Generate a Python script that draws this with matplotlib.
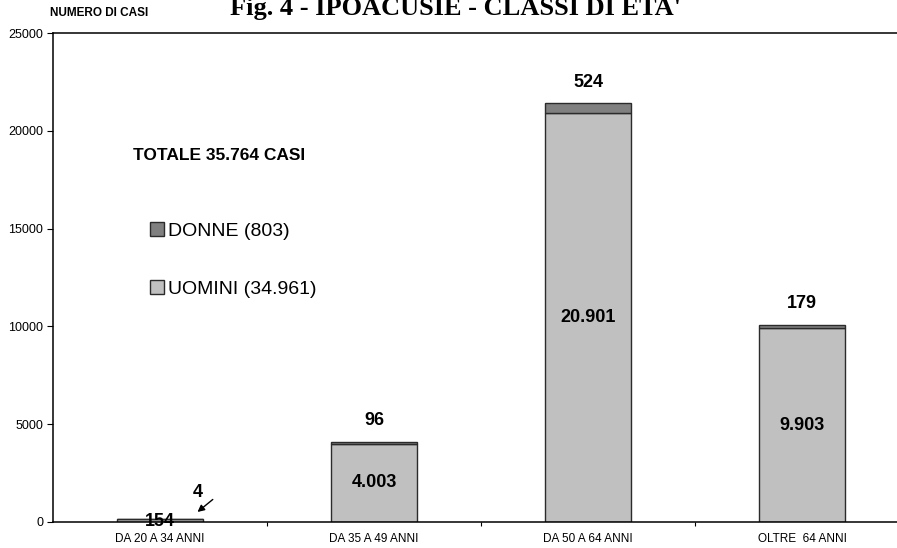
import matplotlib.pyplot as plt
from matplotlib.transforms import offset_copy

# Ipoacusie: casi per classe di eta' e sesso
classi = ["DA 20 A 34 ANNI", "DA 35 A 49 ANNI", "DA 50 A 64 ANNI", "OLTRE  64 ANNI"]
uomini = [154, 4003, 20901, 9903]
donne = [4, 96, 524, 179]
y_ticks = [0, 5000, 10000, 15000, 20000, 25000]


def fmt_it(v):
    # separatore delle migliaia all'italiana
    return f"{v:,}".replace(",", ".")


plt.rcParams['font.family'] = ['Liberation Sans', 'DejaVu Sans']

fig = plt.figure(figsize=(8.97, 5.48), dpi=100)
ax = fig.add_axes([53 / 897, 26 / 548, 856 / 897, 489 / 548])

x = list(range(len(classi)))
width = 0.40
c_uomini = '#C0C0C0'
c_donne = '#808080'
edge = '#2b2b2b'

b_u = ax.bar(x, uomini, width, color=c_uomini, edgecolor=edge, linewidth=1.0,
             label=f"UOMINI ({fmt_it(sum(uomini))})")
b_d = ax.bar(x, donne, width, bottom=uomini, color=c_donne, edgecolor=edge,
             linewidth=1.0, label=f"DONNE ({fmt_it(sum(donne))})")

ax.set_xlim(-0.5, 3.5)
ax.set_ylim(0, 25000)
ax.set_yticks(y_ticks)
ax.set_yticklabels([str(t) for t in y_ticks], fontsize=9)
ax.set_xticks(x)
ax.set_xticklabels(classi, fontsize=8.5)
ax.set_xticks([i + 0.5 for i in x[:-1]], minor=True)
ax.tick_params(axis='x', which='major', length=0, pad=8)
ax.tick_params(axis='x', which='minor', length=3, width=0.8, direction='out')
ax.tick_params(axis='y', length=4, width=0.8, direction='out', pad=3)
ax.spines['right'].set_visible(False)
for s in ('top', 'left', 'bottom'):
    ax.spines[s].set_linewidth(1.1)

# etichette dei valori
for i, (u, d) in enumerate(zip(uomini, donne)):
    tot = u + d
    if u > 1000:
        ax.text(i, u / 2, fmt_it(u), ha='center', va='center',
                fontsize=13, fontweight='bold')
        ax.annotate(str(d), xy=(i, tot), xytext=(0, 15), textcoords='offset points',
                    ha='center', va='center', fontsize=13, fontweight='bold')
    else:
        # classe piccola: valore sul bordo della barra, donne con freccia
        ax.annotate(fmt_it(u), xy=(i, u), xytext=(0, -2), textcoords='offset points',
                    ha='center', va='center', fontsize=13, fontweight='bold')
        ax.annotate(str(d), xy=(i, tot), xytext=(27, 19), textcoords='offset points',
                    ha='center', va='center', fontsize=13, fontweight='bold')
        head = offset_copy(ax.transData, fig=fig, x=27, y=5, units='points')
        ax.annotate('', xy=(i, tot), xycoords=head,
                    xytext=(11, 9), textcoords='offset points',
                    arrowprops=dict(arrowstyle='-|>', color='black', lw=1.0,
                                    mutation_scale=10, shrinkA=0, shrinkB=0))

leg = fig.legend(handles=[b_d, b_u], loc='upper left',
                 bbox_to_anchor=(150 / 897, 1 - 222 / 548), frameon=False,
                 fontsize=14, handlelength=0.7, handleheight=0.7,
                 handletextpad=0.25, labelspacing=2.1, borderpad=0,
                 borderaxespad=0)

fig.text(133 / 897, 1 - 155 / 548, f"TOTALE {fmt_it(sum(uomini) + sum(donne))} CASI",
         ha='left', va='center', fontsize=12.5, fontweight='bold')
fig.text(50 / 897, 1 - 16 / 548, "NUMERO DI CASI", ha='left', va='baseline',
         fontsize=8.5, fontweight='bold')
fig.text(456 / 897, 1 - 15 / 548, "Fig. 4 - IPOACUSIE - CLASSI DI ETA'",
         ha='center', va='baseline', fontsize=19, fontweight='bold',
         family=['Liberation Serif', 'DejaVu Serif'])

fig.savefig('out.png', dpi=100)
